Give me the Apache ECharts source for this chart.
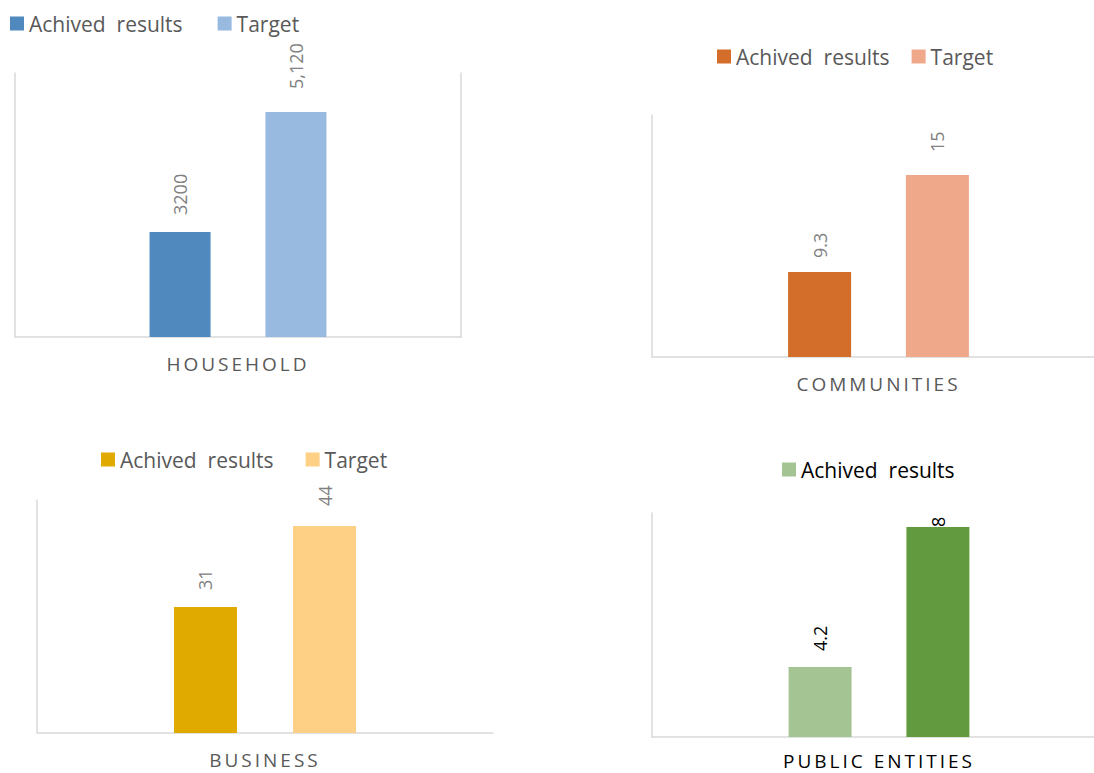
<!DOCTYPE html>
<html>
<head>
<meta charset="utf-8">
<script src="https://cdn.jsdelivr.net/npm/echarts@6/dist/echarts.min.js"></script>
<style>
  html, body { margin: 0; padding: 0; background: #ffffff; }
  #chart { width: 1094px; height: 773px; }
</style>
</head>
<body>
<div id="chart"></div>
<script>
// ---- data ----
const seriesNames = ['Achived  results', 'Target'];

const householdCategory = ['HOUSEHOLD'];
const householdValues = [3200, 5120];
const householdLabels = ['3200', '5,120'];

const communitiesCategory = ['COMMUNITIES'];
const communitiesValues = [9.3, 15];
const communitiesLabels = ['9.3', '15'];

const businessCategory = ['BUSINESS'];
const businessValues = [31, 44];
const businessLabels = ['31', '44'];

const publicCategory = ['PUBLIC ENTITIES'];
const publicValues = [4.2, 8];
const publicLabels = ['4.2', '8'];

// value-axis bounds of each panel
const householdRange = [1520, 5744];
const communitiesRange = [4.3, 18.53];
const businessRange = [10.78, 48.17];
const publicRange = [2.3, 8.38];

// ---- panel styling / layout ----
const FONT = '"Open Sans", "Noto Sans", sans-serif';
const FRAME = '#d9d9d9';

const panels = [
  {
    category: householdCategory, values: householdValues, labels: householdLabels, range: householdRange,
    grid: { left: 15, top: 73, width: 446, height: 264 },
    colors: ['#4f89bd', '#98b9e0'],
    labelColor: '#808080', labelGaps: [17, 23],
    textColor: '#595959', rightLine: true, nameMargin: 17,
    barWidth: 61, barGap: '90%',
    legend: { left: 10, top: 13, itemGap: 35, names: seriesNames }
  },
  {
    category: communitiesCategory, values: communitiesValues, labels: communitiesLabels, range: communitiesRange,
    grid: { left: 652, top: 115, width: 453, height: 242 },
    colors: ['#d26d2a', '#f0a88a'],
    labelColor: '#808080', labelGaps: [14, 23],
    textColor: '#595959', rightLine: false, nameMargin: 17,
    barWidth: 63, barGap: '87%',
    legend: { left: 717, top: 46, itemGap: 22, names: seriesNames }
  },
  {
    category: businessCategory, values: businessValues, labels: businessLabels, range: businessRange,
    grid: { left: 37, top: 500, width: 456, height: 233 },
    colors: ['#e1aa00', '#fed086'],
    labelColor: '#808080', labelGaps: [17, 20],
    textColor: '#595959', rightLine: false, nameMargin: 17,
    barWidth: 63, barGap: '89%',
    legend: { left: 101, top: 449, itemGap: 32, names: seriesNames }
  },
  {
    category: publicCategory, values: publicValues, labels: publicLabels, range: publicRange,
    grid: { left: 652, top: 513, width: 454, height: 224 },
    colors: ['#a4c593', '#629a3f'],
    labelColor: '#000000', labelGaps: [16, 0],
    textColor: '#000000', rightLine: false, nameMargin: 14,
    barWidth: 63, barGap: '87%',
    legend: { left: 782, top: 459, itemGap: 22, names: [seriesNames[0]] }
  }
];

const grids = [], xAxes = [], yAxes = [], series = [], legends = [];

panels.forEach((p, i) => {
  grids.push(Object.assign({ containLabel: false, outerBoundsMode: 'none' }, p.grid));

  xAxes.push({
    type: 'category',
    gridIndex: i,
    data: p.category,
    axisLine: { show: true, onZero: false, lineStyle: { color: FRAME, width: 1.5 } },
    axisTick: { show: false },
    axisLabel: { color: p.textColor, fontSize: 19, lineHeight: 19, fontFamily: FONT, margin: p.nameMargin },
    splitLine: { show: false }
  });

  const yIndex = yAxes.length;
  yAxes.push({
    type: 'value',
    gridIndex: i,
    min: p.range[0],
    max: p.range[1],
    axisLine: { show: true, lineStyle: { color: FRAME, width: 1.5 } },
    axisTick: { show: false },
    axisLabel: { show: false },
    splitLine: { show: false }
  });
  if (p.rightLine) {
    yAxes.push({
      type: 'value',
      gridIndex: i,
      position: 'right',
      min: p.range[0],
      max: p.range[1],
      axisLine: { show: true, lineStyle: { color: FRAME, width: 1.5 } },
      axisTick: { show: false },
      axisLabel: { show: false },
      splitLine: { show: false }
    });
  }

  p.values.forEach((v, j) => {
    series.push({
      type: 'bar',
      name: seriesNames[j],
      xAxisIndex: i,
      yAxisIndex: yIndex,
      barWidth: p.barWidth,
      barGap: p.barGap,
      itemStyle: { color: p.colors[j] },
      label: {
        show: true,
        position: 'top',
        rotate: 90,
        align: 'left',
        verticalAlign: 'middle',
        distance: p.labelGaps[j],
        color: p.labelColor,
        fontSize: 18,
        fontFamily: FONT,
        formatter: () => p.labels[j]
      },
      data: [v]
    });
  });

  legends.push({
    left: p.legend.left,
    top: p.legend.top,
    padding: 0,
    icon: 'rect',
    itemWidth: 14,
    itemHeight: 14,
    itemGap: p.legend.itemGap,
    selectedMode: false,
    textStyle: { color: p.textColor, fontSize: 21, fontFamily: FONT },
    data: p.legend.names.map((n) => ({
      name: n,
      itemStyle: { color: p.colors[seriesNames.indexOf(n)] }
    }))
  });
});

const chart = echarts.init(document.getElementById('chart'), null, { renderer: 'svg' });
chart.setOption({
  animation: false,
  backgroundColor: '#ffffff',
  grid: grids,
  xAxis: xAxes,
  yAxis: yAxes,
  legend: legends,
  series: series
});

// spaced capitals for the category names
const categoryNames = panels.map((p) => p.category[0]);
function spaceCategoryLetters() {
  document.querySelectorAll('#chart text').forEach((t) => {
    if (categoryNames.indexOf(t.textContent.trim()) !== -1) {
      t.setAttribute('letter-spacing', '3px');
    }
  });
}
chart.on('finished', spaceCategoryLetters);
setTimeout(spaceCategoryLetters, 0);
setTimeout(spaceCategoryLetters, 200);
</script>
</body>
</html>
